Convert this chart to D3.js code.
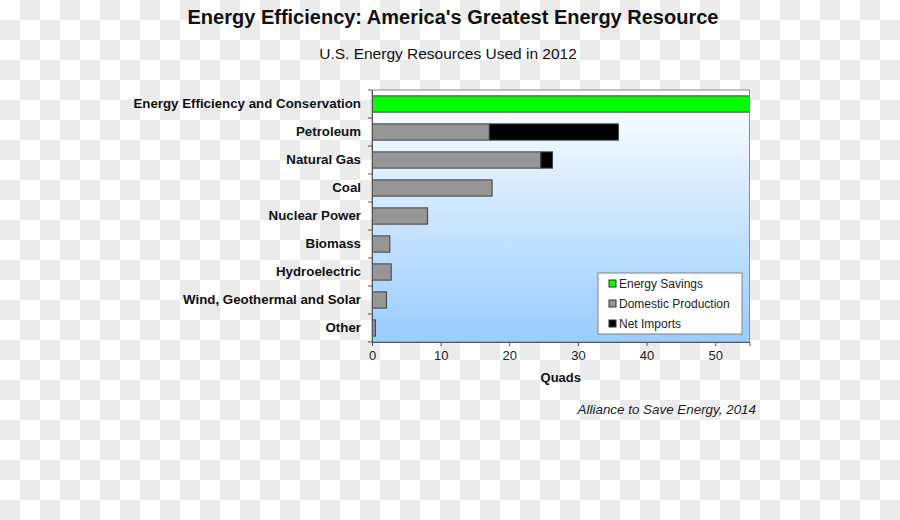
<!DOCTYPE html>
<html><head><meta charset="utf-8">
<script src="https://cdn.jsdelivr.net/npm/d3@7"></script>
<style>
html,body{margin:0;padding:0;background:#fff;}
svg{display:block;font-family:"Liberation Sans",Arial,sans-serif;}
</style></head>
<body><svg id="chart" width="900" height="520"></svg>
<script>
const categories = ["Energy Efficiency and Conservation","Petroleum","Natural Gas","Coal","Nuclear Power","Biomass","Hydroelectric","Wind, Geothermal and Solar","Other"];
const energySavings = [60, 0, 0, 0, 0, 0, 0, 0, 0];
const domesticProduction = [0, 17.1, 24.6, 17.5, 8.1, 2.6, 2.8, 2.1, 0.5];
const netImports = [0, 18.8, 1.7, 0, 0, 0, 0, 0, 0];
const xTicks = [0, 10, 20, 30, 40, 50];
const seriesNames = ["Energy Savings","Domestic Production","Net Imports"];
const seriesColors = ["#00ff00","#969696","#000000"];

const svg = d3.select("#chart");
const W = 900, H = 520;

// checkerboard background
const defs = svg.append("defs");
const pat = defs.append("pattern").attr("id","checker").attr("width",40).attr("height",40).attr("patternUnits","userSpaceOnUse");
pat.append("rect").attr("width",40).attr("height",40).attr("fill","#ffffff");
pat.append("rect").attr("x",20).attr("y",0).attr("width",20).attr("height",20).attr("fill","#ebebeb");
pat.append("rect").attr("x",0).attr("y",20).attr("width",20).attr("height",20).attr("fill","#ebebeb");
svg.append("rect").attr("width",W).attr("height",H).attr("fill","url(#checker)");

const grad = defs.append("linearGradient").attr("id","bg").attr("x1",0).attr("y1",0).attr("x2",0).attr("y2",1);
grad.append("stop").attr("offset","0%").attr("stop-color","#ffffff");
grad.append("stop").attr("offset","100%").attr("stop-color","#99ccff");

const L = 372, T = 90, R = 749.5, B = 342;
const x = d3.scaleLinear().domain([0,55]).range([L,R]);
const y = d3.scaleBand().domain(categories).range([T,B]).paddingInner(0.42).paddingOuter(0.21);

defs.append("clipPath").attr("id","clip").append("rect").attr("x",L).attr("y",T).attr("width",R-L).attr("height",B-T);

svg.append("rect").attr("x",L).attr("y",T).attr("width",R-L).attr("height",B-T).attr("fill","url(#bg)");

// stacked bars
const rows = categories.map((c,i)=>({cat:c, s:energySavings[i], d:domesticProduction[i], n:netImports[i]}));
const stack = d3.stack().keys(["s","d","n"])(rows);
const g = svg.append("g").attr("clip-path","url(#clip)");
stack.forEach((layer,k)=>{
  g.selectAll(null).data(layer.filter(p=>p[1]-p[0]>0)).enter().append("rect")
    .attr("x",p=>x(p[0])).attr("width",p=>x(p[1])-x(p[0]))
    .attr("y",p=>y(p.data.cat)).attr("height",y.bandwidth())
    .attr("fill",seriesColors[k]).attr("stroke","#404040").attr("stroke-width",1);
});

// frame
svg.append("rect").attr("x",L).attr("y",T).attr("width",R-L).attr("height",B-T)
  .attr("fill","none").attr("stroke","#8c8c8c").attr("stroke-width",1);

// y axis
const yAxis = d3.axisLeft(y).tickSize(0).tickPadding(11);
const ya = svg.append("g").attr("transform",`translate(${L},0)`).call(yAxis);
ya.select(".domain").attr("stroke","#555");
ya.selectAll("text").attr("font-size","13.3px").attr("font-weight","bold").attr("fill","#111")
  .attr("font-family","'Liberation Sans',Arial,sans-serif");
const step = y.step();
const bounds = d3.range(categories.length+1).map(i=>T+i*step);
svg.append("g").selectAll("line").data(bounds).enter().append("line")
  .attr("x1",L-4).attr("x2",L).attr("y1",d=>d).attr("y2",d=>d).attr("stroke","#555");

// x axis
const xAxis = d3.axisBottom(x).tickValues(xTicks).tickSize(4).tickPadding(5).tickFormat(d3.format("d"));
const xa = svg.append("g").attr("transform",`translate(0,${B})`).call(xAxis);
xa.select(".domain").attr("stroke","#555");
xa.selectAll(".tick line").attr("stroke","#555");
xa.selectAll("text").attr("font-size","13px").attr("fill","#222")
  .attr("font-family","'Liberation Sans',Arial,sans-serif");

svg.append("text").attr("x",(L+R)/2).attr("y",382).attr("text-anchor","middle")
  .attr("font-size","13px").attr("font-weight","bold").attr("fill","#111").text("Quads");

// titles
svg.append("text").attr("x",453).attr("y",24).attr("text-anchor","middle")
  .attr("font-size","20px").attr("font-weight","bold").attr("fill","#111")
  .text("Energy Efficiency: America's Greatest Energy Resource");
svg.append("text").attr("x",448).attr("y",59).attr("text-anchor","middle")
  .attr("font-size","15.5px").attr("fill","#111").text("U.S. Energy Resources Used in 2012");

svg.append("text").attr("x",756).attr("y",414).attr("text-anchor","end")
  .attr("font-size","13.4px").attr("font-style","italic").attr("fill","#222")
  .text("Alliance to Save Energy, 2014");

// legend
const lg = svg.append("g").attr("transform","translate(598,273)");
lg.append("rect").attr("width",144).attr("height",61).attr("fill","#fff").attr("stroke","#808080");
seriesNames.forEach((n,i)=>{
  lg.append("rect").attr("x",11).attr("y",7+i*20).attr("width",7).attr("height",7)
    .attr("fill",seriesColors[i]).attr("stroke","#333");
  lg.append("text").attr("x",21).attr("y",15+i*20).attr("font-size","12px").attr("fill","#222").text(n);
});
</script></body></html>
